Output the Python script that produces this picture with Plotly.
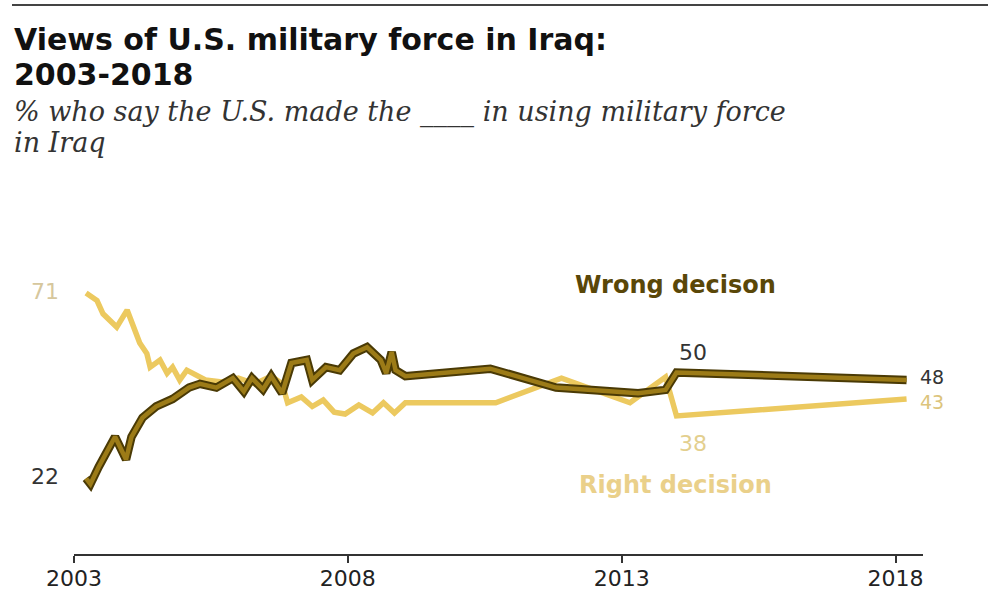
import plotly.graph_objects as go

# ---- data (decimal year, percent) ----
wrong_years = [2003.22, 2003.30, 2003.45, 2003.75, 2003.95, 2004.05, 2004.25, 2004.50, 2004.80,
               2005.10, 2005.30, 2005.60, 2005.90, 2006.10, 2006.25, 2006.45, 2006.60, 2006.80,
               2006.97, 2007.25, 2007.35, 2007.60, 2007.85, 2008.10, 2008.35, 2008.60, 2008.70,
               2008.80, 2008.87, 2009.05, 2010.60, 2011.80, 2013.30, 2013.80, 2014.00, 2018.20]
wrong_vals = [22, 20.5, 25, 33, 27, 33, 38, 41, 43,
              46, 47, 46, 48.5, 45, 48.5, 45.5, 49, 44.5,
              52.5, 53.3, 48, 51.4, 50.6, 55, 56.7, 53.3, 49.8,
              55.4, 50.6, 49, 51, 46, 44.5, 45.4, 50, 48]

right_years = [2003.22, 2003.42, 2003.53, 2003.78, 2003.97, 2004.08, 2004.20, 2004.33, 2004.39,
               2004.57, 2004.70, 2004.80, 2004.93, 2005.06, 2005.40, 2005.70, 2006.00, 2006.30,
               2006.60, 2006.80, 2006.90, 2007.15, 2007.35, 2007.55, 2007.75, 2007.95, 2008.20,
               2008.45, 2008.65, 2008.85, 2009.05, 2010.70, 2011.90, 2013.15, 2013.80, 2014.00,
               2018.20]
right_vals = [71, 69, 65.5, 62, 66.5, 62, 57.8, 55, 51.4,
              53.3, 49.8, 51.4, 48, 50.6, 48, 47.5, 48.5, 47,
              49, 47, 42, 43.5, 41, 42.7, 39.5, 39, 41.4,
              39.3, 42, 39.3, 42, 42, 48.5, 42, 48.8, 38.5,
              43]

tick_years = [2003, 2008, 2013, 2018]
tick_labels = ["2003", "2008", "2013", "2018"]

DARK_OUT = "#4a3a05"
DARK_FILL = "#9c7b17"
LIGHT = "#ecc95f"

fig = go.Figure()
fig.add_trace(go.Scatter(x=right_years, y=right_vals, mode="lines",
                         line=dict(color=LIGHT, width=5.5), hoverinfo="skip"))
fig.add_trace(go.Scatter(x=wrong_years, y=wrong_vals, mode="lines",
                         line=dict(color=DARK_OUT, width=8.5), hoverinfo="skip"))
fig.add_trace(go.Scatter(x=wrong_years, y=wrong_vals, mode="lines",
                         line=dict(color=DARK_FILL, width=4.5), hoverinfo="skip"))

L, R, T, B = 74, 65, 200, 38
PW, PH = 988 - L - R, 592 - T - B
YMIN, YMAX = 2, 95.6

def px(x):
    return (x - L) / PW

def py(y):
    return (592 - B - y) / PH

def vy(v):
    # data value -> paper y
    return (v - YMIN) / (YMAX - YMIN)

def yx(yr):
    # year -> paper x
    return (yr - 2003) / (2018.5 - 2003)

num_font = "DejaVu Sans"
NS = 22
annots = [
    dict(text="<b>Views of U.S. military force in Iraq:</b>", x=px(12), y=py(39), xanchor="left", yanchor="middle",
         font=dict(family="DejaVu Sans", size=30, color="#111")),
    dict(text="<b>2003-2018</b>", x=px(12), y=py(74), xanchor="left", yanchor="middle",
         font=dict(family="DejaVu Sans", size=30, color="#111")),
    dict(text="<i>% who say the U.S. made the ____ in using military force</i>", x=px(12), y=py(112),
         xanchor="left", yanchor="middle", font=dict(family="DejaVu Serif", size=27, color="#333")),
    dict(text="<i>in Iraq</i>", x=px(12), y=py(142), xanchor="left", yanchor="middle",
         font=dict(family="DejaVu Serif", size=27, color="#333")),
    dict(text="<b>Wrong decison</b>", x=yx(2013.99), y=vy(73), xanchor="center", yanchor="middle",
         font=dict(family=num_font, size=24, color="#5a4708")),
    dict(text="<b>Right decision</b>", x=yx(2013.99), y=vy(20.2), xanchor="center", yanchor="middle",
         font=dict(family=num_font, size=24, color="#ead08a")),
    dict(text="71", x=px(45), y=vy(71.5), xanchor="center", yanchor="middle",
         font=dict(family=num_font, size=NS, color="#d6c79d")),
    dict(text="22", x=px(45), y=vy(22.5), xanchor="center", yanchor="middle",
         font=dict(family=num_font, size=NS, color="#333")),
    dict(text="50", x=yx(2014.3), y=vy(55.4), xanchor="center", yanchor="middle",
         font=dict(family=num_font, size=NS, color="#333")),
    dict(text="38", x=yx(2014.3), y=vy(31.3), xanchor="center", yanchor="middle",
         font=dict(family=num_font, size=NS, color="#e3cf8e")),
    dict(text="<span style='color:#333'>48</span><br><span style='color:#dcc47c'>43</span>",
         x=px(932), y=vy(45.6), xanchor="center", yanchor="middle",
         font=dict(family=num_font, size=19, color="#333")),
]
for a in annots:
    a["xref"] = "paper"
    a["yref"] = "paper"
    a["showarrow"] = False

fig.update_layout(
    width=988, height=592,
    margin=dict(l=L, r=R, t=T, b=B, autoexpand=False),
    paper_bgcolor="white", plot_bgcolor="white",
    showlegend=False,
    annotations=annots,
    shapes=[dict(type="line", xref="paper", yref="paper", x0=px(12), x1=px(988), y0=py(5), y1=py(5),
                 line=dict(color="#444", width=2))],
    xaxis=dict(range=[2003, 2018.5], tickvals=tick_years, ticktext=tick_labels, automargin=False,
               showgrid=False, zeroline=False, showline=True, linecolor="#333", linewidth=2,
               ticks="outside", ticklen=7, tickwidth=1.5, tickcolor="#333", ticklabelstandoff=-3,
               tickfont=dict(family=num_font, size=22, color="#222")),
    yaxis=dict(range=[YMIN, YMAX], visible=False, showgrid=False, zeroline=False, automargin=False),
)
fig.write_html("out.html", config={"displayModeBar": False},
               post_script="document.body.style.margin='0';document.body.style.padding='0';")
